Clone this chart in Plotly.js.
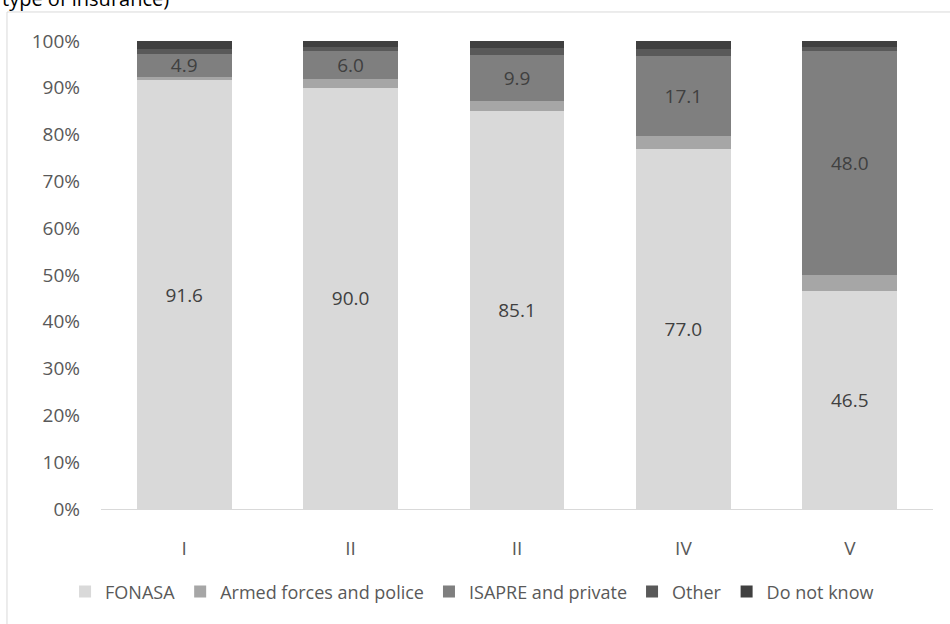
<!DOCTYPE html>
<html>
<head>
<meta charset="utf-8">
<script src="https://cdn.plot.ly/plotly-3.0.1.min.js"></script>
<style>
  html, body { margin: 0; padding: 0; background: #ffffff; }
  #chart { width: 950px; height: 624px; }
</style>
</head>
<body>
<div id="chart"></div>
<script>
// Income quintiles (categories) and the labels printed under each bar
const quintiles = ['I', 'II', 'III', 'IV', 'V'];
const quintileLabels = ['I', 'II', 'II', 'IV', 'V'];

// Share of population by type of health insurance (%)
const fonasa = [91.6, 90.0, 85.1, 77.0, 46.5];
const armedForces = [0.8, 1.8, 2.1, 2.8, 3.4];
const isapre = [4.9, 6.0, 9.9, 17.1, 48.0];
const other = [1.0, 0.9, 1.3, 1.3, 0.9];
const doNotKnow = [1.7, 1.3, 1.6, 1.8, 1.2];

const seriesNames = ['FONASA', 'Armed forces and police', 'ISAPRE and private', 'Other', 'Do not know'];
const seriesValues = [fonasa, armedForces, isapre, other, doNotKnow];
const seriesColors = ['#d9d9d9', '#a6a6a6', '#7f7f7f', '#595959', '#404040'];
const labelled = [true, false, true, false, false];

const traces = seriesValues.map((vals, i) => {
  const t = {
    type: 'bar',
    name: seriesNames[i],
    x: quintiles,
    y: vals,
    marker: { color: seriesColors[i], line: { width: 0 } },
    hoverinfo: 'name+y'
  };
  if (labelled[i]) {
    t.texttemplate = '%{y:.1f}';
    t.textposition = 'inside';
    t.insidetextanchor = 'middle';
    t.constraintext = 'none';
    t.textangle = 0;
    t.textfont = { family: 'Open Sans, sans-serif', size: 19, color: '#404040' };
  }
  return t;
});

const layout = {
  width: 950,
  height: 624,
  paper_bgcolor: '#ffffff',
  plot_bgcolor: '#ffffff',
  barmode: 'stack',
  bargap: 0.43,
  margin: { l: 101, r: 17, t: 41, b: 115 },
  font: { family: 'Open Sans, sans-serif', color: '#595959' },
  xaxis: {
    type: 'category',
    tickmode: 'array',
    tickvals: quintiles,
    ticktext: quintileLabels,
    showline: true,
    linecolor: '#d9d9d9',
    linewidth: 1,
    showgrid: false,
    zeroline: false,
    ticks: '',
    ticklabelstandoff: 22,
    tickfont: { family: 'Open Sans, sans-serif', size: 19, color: '#595959' }
  },
  yaxis: {
    range: [0, 100],
    tickmode: 'linear',
    tick0: 0,
    dtick: 10,
    ticksuffix: '%',
    showgrid: false,
    zeroline: false,
    showline: false,
    ticks: '',
    ticklabelstandoff: 20,
    tickfont: { family: 'Open Sans, sans-serif', size: 19, color: '#595959' }
  },
  showlegend: true,
  legend: {
    orientation: 'h',
    x: 0.446,
    xanchor: 'center',
    y: -0.177,
    yanchor: 'middle',
    traceorder: 'normal',
    itemwidth: 30,
    font: { family: 'Open Sans, sans-serif', size: 18, color: '#595959' }
  },
  shapes: [{
    type: 'rect',
    xref: 'paper', yref: 'paper',
    x0: -0.113, x1: 1.04, y0: -0.3, y1: 1.062,
    line: { color: '#d9d9d9', width: 1 },
    fillcolor: 'rgba(0,0,0,0)',
    layer: 'below'
  }],
  annotations: [{
    text: 'type of insurance)',
    xref: 'paper', yref: 'paper',
    x: -0.1214, xanchor: 'left',
    y: 1.058, yanchor: 'bottom',
    showarrow: false,
    font: { family: 'Open Sans, sans-serif', size: 20, color: '#000000' }
  }]
};

Plotly.newPlot('chart', traces, layout, { displayModeBar: false, staticPlot: true });
</script>
</body>
</html>
